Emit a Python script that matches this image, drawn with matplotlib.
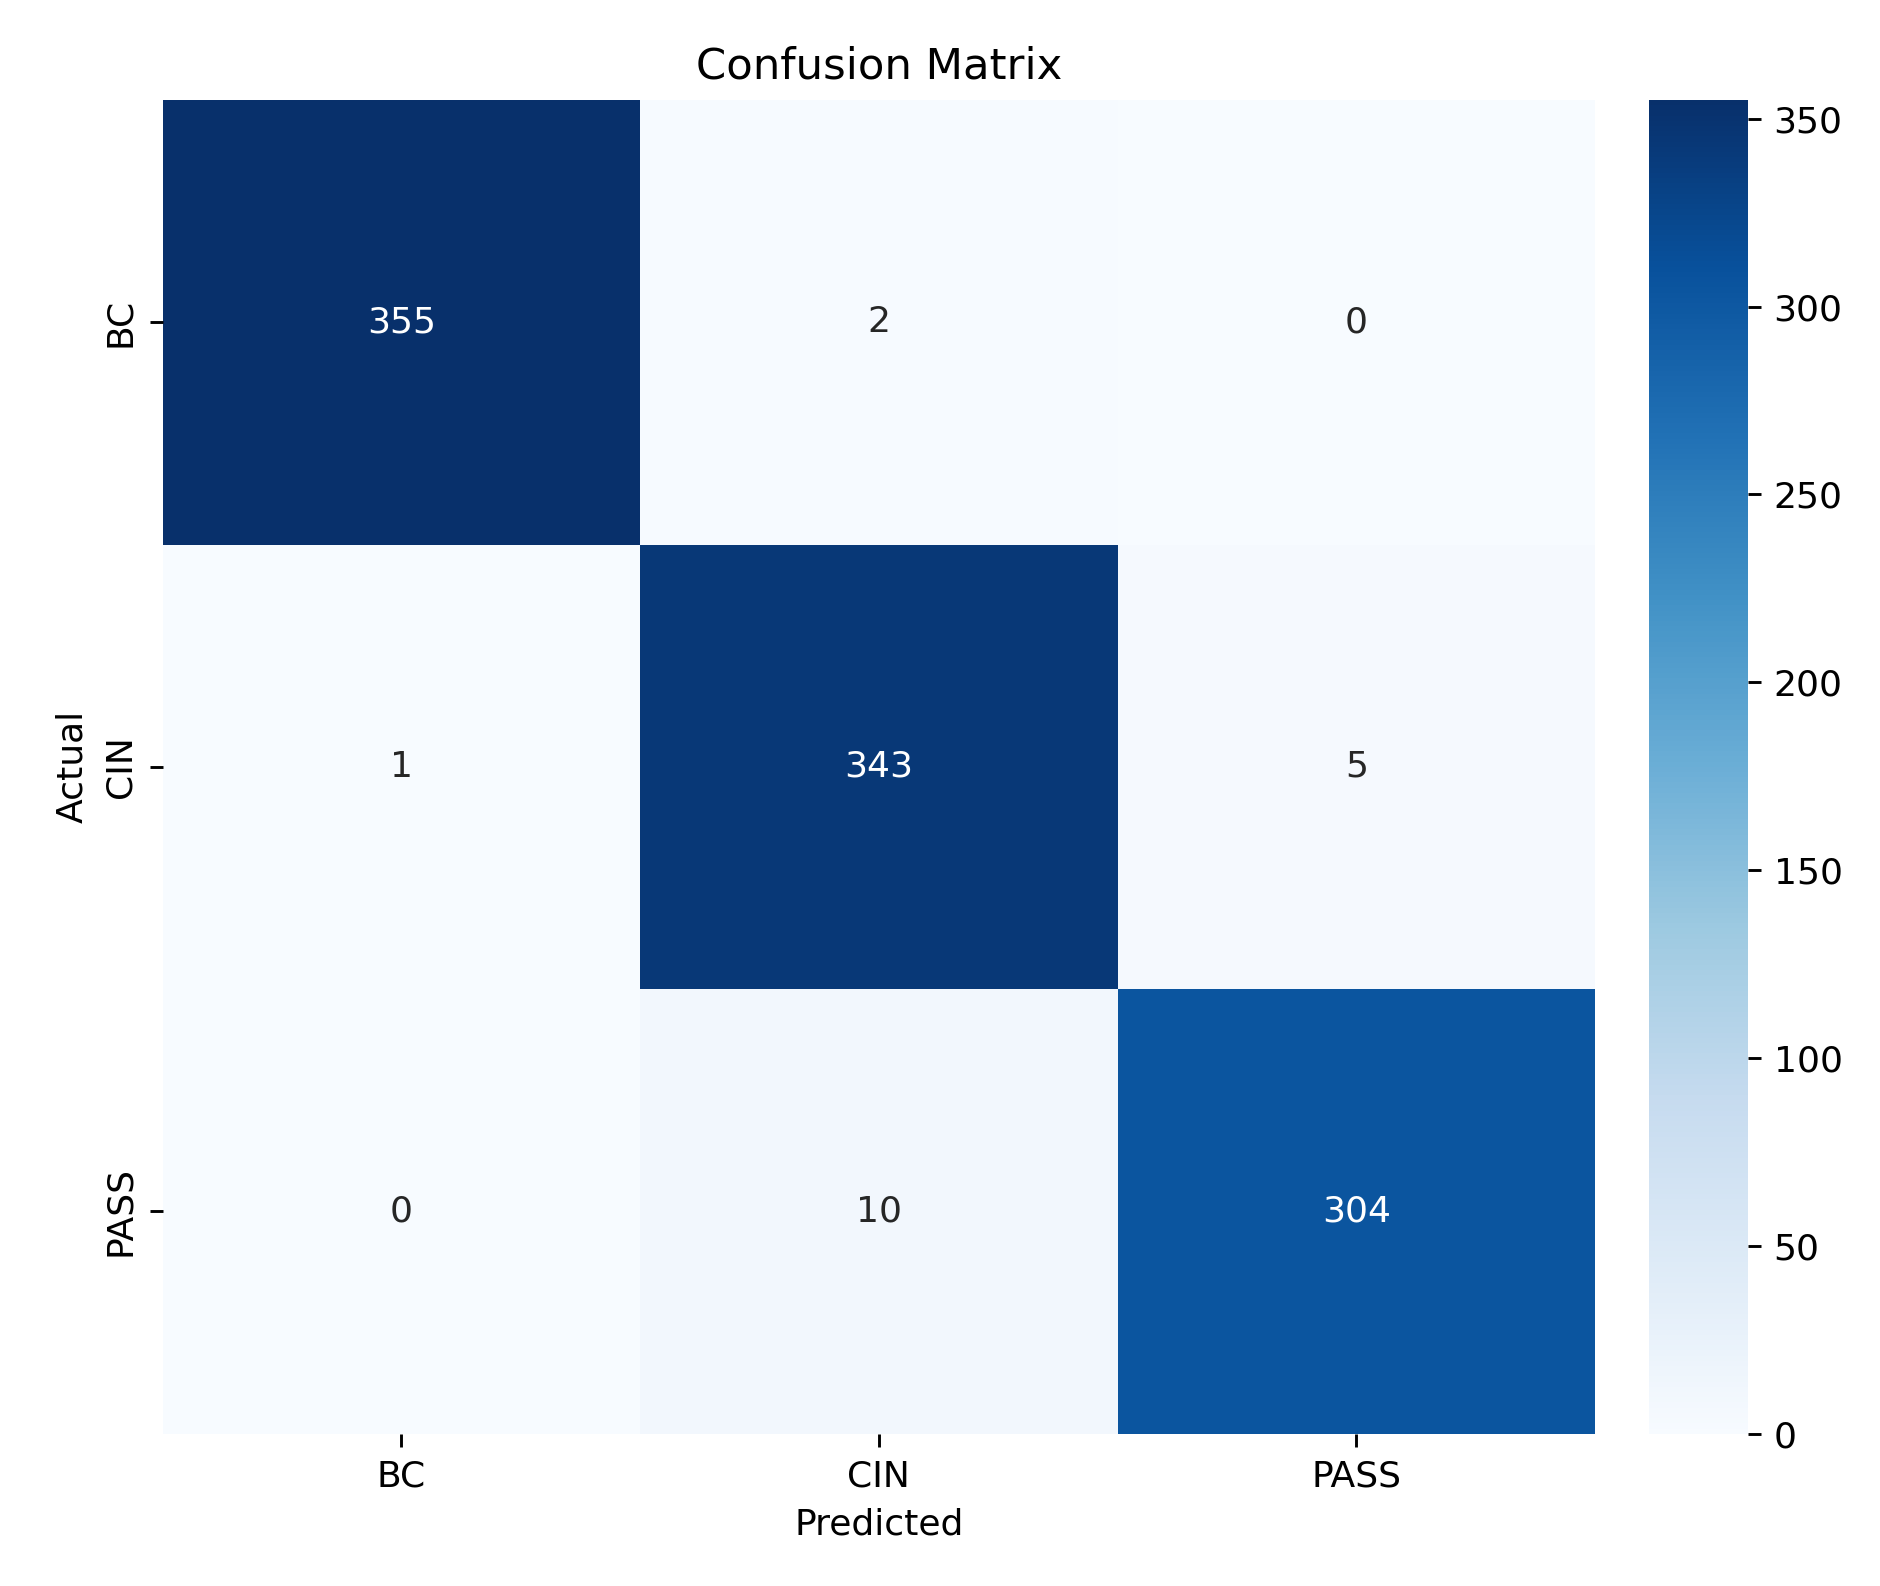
import numpy as np
import matplotlib.pyplot as plt
import seaborn as sns

labels = ['BC', 'CIN', 'PASS']
counts = [[355, 2, 0],
          [1, 343, 5],
          [0, 10, 304]]

cm = np.array(counts)

fig = plt.figure(figsize=(1880/260, 1586/260), dpi=260)
ax = fig.add_axes([0.0865, 0.096, 0.762, 0.841])
cax = fig.add_axes([0.877, 0.096, 0.053, 0.841])
sns.heatmap(cm, annot=True, fmt='d', cmap='Blues', xticklabels=labels,
            yticklabels=labels, ax=ax, cbar_ax=cax)
ax.set_title('Confusion Matrix', fontsize=12)
ax.set_xlabel('Predicted')
ax.set_ylabel('Actual')
fig.savefig('out.png', dpi=260)
